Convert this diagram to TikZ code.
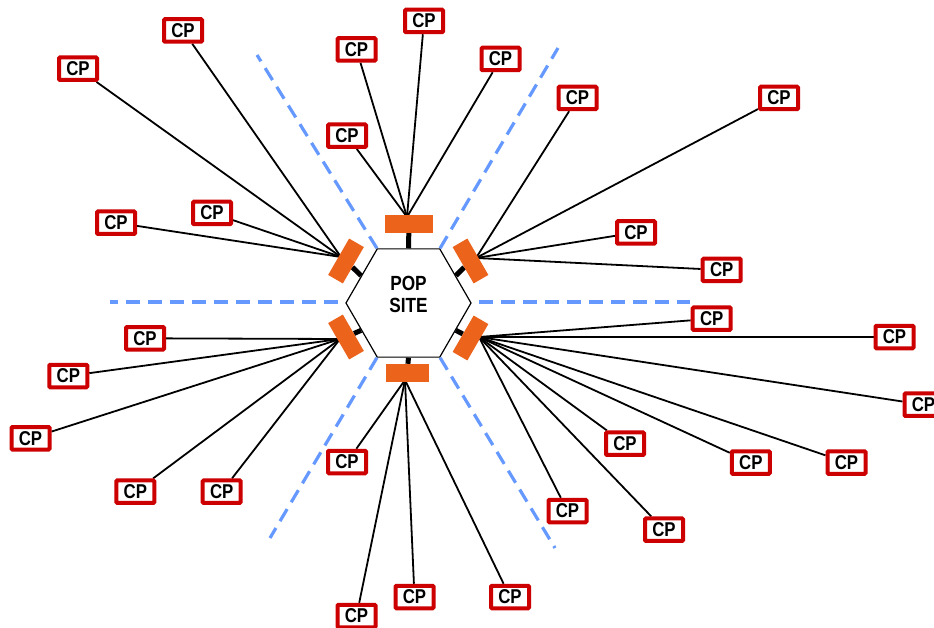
\documentclass[tikz,border=0pt]{standalone}
\usepackage{fontspec}
\newfontfamily\narrowsans{Liberation Sans}[FakeStretch=0.84]
\usetikzlibrary{shapes.geometric}
\pgfdeclarelayer{paper}
\pgfdeclarelayer{bg}
\pgfsetlayers{paper,bg,main}
\definecolor{cpred}{RGB}{204,0,0}
\definecolor{portorange}{RGB}{236,100,28}
\definecolor{zoneblue}{RGB}{102,153,255}
\tikzset{
  cpbox/.style={draw=cpred, line width=4pt, fill=white, rounded corners=1pt,
    minimum width=38pt, minimum height=22.5pt, inner sep=0pt,
    font={\narrowsans\bfseries\fontsize{20pt}{22pt}\selectfont}},
  port/.style={fill=portorange, minimum width=42pt, minimum height=17pt, inner sep=0pt},
  wire/.style={line width=1.8pt, black},
  link/.style={line width=5pt, black},
  zone/.style={zoneblue, line width=3.2pt, dash pattern=on 14pt off 8pt},
}
\begin{document}
\begin{tikzpicture}[x=1pt,y=-1pt]
\clip (0,0) rectangle (934,628);
\begin{pgfonlayer}{paper}
  \fill[white] (0,0) rectangle (934,628);
\end{pgfonlayer}

% POP site
\node[regular polygon, regular polygon sides=6, minimum size=125pt, inner sep=0pt,
      draw, line width=1.2pt, fill=white] (hex) at (408.5,303) {};
\node[align=center, font={\narrowsans\bfseries\fontsize{20.5pt}{22pt}\selectfont}]
      (site) at (408.5,294) {POP\\SITE};

% sector boundaries
\coordinate (zWin) at (338,302);  \coordinate (zWout) at (110,302);
\coordinate (zEin) at (479,302);  \coordinate (zEout) at (690,302);
\coordinate (zNWout) at (257,55); \coordinate (zNEout) at (558,48);
\coordinate (zSWout) at (270,538);\coordinate (zSEout) at (555,548);
\draw[zone] (zWin) -- (zWout);
\draw[zone] (zEin) -- (zEout);
\draw[zone] (hex.120) -- (zNWout);
\draw[zone] (hex.60) -- (zNEout);
\draw[zone] (hex.240) -- (zSWout);
\draw[zone] (hex.300) -- (zSEout);

% ports on the six faces
\node[port, minimum width=48pt, minimum height=18pt] (pT) at (409,224) {};
\node[port, minimum width=43pt, minimum height=18pt] (pB) at (407,373) {};
\node[port, rotate=60]  (pUL) at (346,261) {};
\node[port, rotate=-60] (pUR) at (470.5,261) {};
\node[port, rotate=-60] (pLL) at (346,337) {};
\node[port, rotate=60]  (pLR) at (470.5,338) {};

% points where the access lines meet each port
\coordinate (hT)  at (407,217);
\coordinate (hB)  at (405,380);
\coordinate (hUL) at (341,257);
\coordinate (hUR) at (476,258);
\coordinate (hLL) at (340,339);
\coordinate (hLR) at (479,337);

% customer premises
\node[cpbox] (cp1)  at (183,30.5) {CP};
\node[cpbox] (cp2)  at (78,68.7) {CP};
\node[cpbox] (cp3)  at (212,213) {CP};
\node[cpbox] (cp4)  at (116,222.7) {CP};
\node[cpbox] (cp5)  at (424,21) {CP};
\node[cpbox] (cp6)  at (356.5,49.5) {CP};
\node[cpbox] (cp7)  at (500.5,59) {CP};
\node[cpbox] (cp8)  at (347,135.7) {CP};
\node[cpbox] (cp9)  at (577.5,98) {CP};
\node[cpbox] (cp10) at (779,98) {CP};
\node[cpbox] (cp11) at (636,232.5) {CP};
\node[cpbox] (cp12) at (721.7,270) {CP};
\node[cpbox] (cp13) at (145,338.3) {CP};
\node[cpbox] (cp14) at (68.3,376) {CP};
\node[cpbox] (cp15) at (30.5,438.3) {CP};
\node[cpbox] (cp16) at (135.3,491.7) {CP};
\node[cpbox] (cp17) at (221.7,491.7) {CP};
\node[cpbox] (cp18) at (347,462) {CP};
\node[cpbox] (cp19) at (356.5,616) {CP};
\node[cpbox] (cp20) at (414.5,597) {CP};
\node[cpbox] (cp21) at (510,597) {CP};
\node[cpbox] (cp22) at (567.5,511) {CP};
\node[cpbox] (cp23) at (711.7,318.7) {CP};
\node[cpbox] (cp24) at (894.5,337) {CP};
\node[cpbox] (cp25) at (923.5,404.7) {CP};
\node[cpbox] (cp26) at (625,443.7) {CP};
\node[cpbox] (cp27) at (750.8,462.5) {CP};
\node[cpbox] (cp28) at (846.5,462.5) {CP};
\node[cpbox] (cp29) at (664,529.7) {CP};

\begin{pgfonlayer}{bg}
  % port uplinks into the hexagon
  \draw[link] (hex.90)  -- (pT);
  \draw[link] (hex.270) -- (pB);
  \draw[link] (hex.150) -- (pUL);
  \draw[link] (hex.30)  -- (pUR);
  \draw[link] (hex.210) -- (pLL);
  \draw[link] (hex.330) -- (pLR);
  % access lines
  \foreach \c in {1,2,3,4}       \draw[wire] (cp\c) -- (hUL);
  \foreach \c in {5,6,7,8}       \draw[wire] (cp\c) -- (hT);
  \foreach \c in {9,10,11,12}    \draw[wire] (cp\c) -- (hUR);
  \foreach \c in {13,...,17}     \draw[wire] (cp\c) -- (hLL);
  \foreach \c in {18,...,21}     \draw[wire] (cp\c) -- (hB);
  \foreach \c in {22,...,29}     \draw[wire] (cp\c) -- (hLR);
\end{pgfonlayer}
\end{tikzpicture}
\end{document}
